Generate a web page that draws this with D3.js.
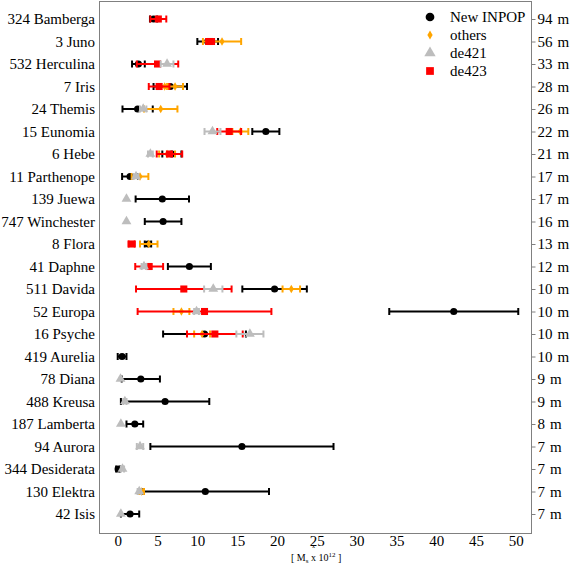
<!DOCTYPE html>
<html lang="en">
  <head>
    <meta charset="UTF-8" />
    <title>Asteroid masses</title>
    <style>
      body { margin: 0; background: #fff; }
      svg, svg text { font-family: 'Liberation Serif', 'Times New Roman', serif; }
      .axis text { font-size: 15px; fill: #000; }
      .axis path, .axis line { stroke: #808080; }
    </style>
  </head>
  <body>
    <svg width="572" height="567"></svg>
    <script src="https://cdn.jsdelivr.net/npm/d3@7/dist/d3.min.js"></script>
    <script>
      const asteroids = [
        '324 Bamberga', '3 Juno', '532 Herculina', '7 Iris', '24 Themis', '15 Eunomia',
        '6 Hebe', '11 Parthenope', '139 Juewa', '747 Winchester', '8 Flora', '41 Daphne',
        '511 Davida', '52 Europa', '16 Psyche', '419 Aurelia', '78 Diana', '488 Kreusa',
        '187 Lamberta', '94 Aurora', '344 Desiderata', '130 Elektra', '42 Isis'
      ];
      const diameters = [94, 56, 33, 28, 26, 22, 21, 17, 17, 16, 13, 12, 10, 10, 10, 10, 9, 9, 8, 7, 7, 7, 7];
      const xTicks = [0, 5, 10, 15, 20, 25, 30, 35, 40, 45, 50];

      // [asteroid, mass, sigma]
      const newInpop = [
        ['324 Bamberga', 4.5, 0.45], ['3 Juno', 11.3, 1.3], ['532 Herculina', 2.6, 0.8],
        ['7 Iris', 6.6, 2.1], ['24 Themis', 2.5, 1.9], ['15 Eunomia', 18.6, 1.7],
        ['6 Hebe', 6.8, 1.2], ['11 Parthenope', 1.55, 1.0], ['139 Juewa', 5.6, 3.35],
        ['747 Winchester', 5.7, 2.3], ['8 Flora', 3.8, 0.4], ['41 Daphne', 9.0, 2.7],
        ['511 Davida', 19.7, 4.05], ['52 Europa', 42.2, 8.1], ['16 Psyche', 10.9, 5.2],
        ['419 Aurelia', 0.55, 0.55], ['78 Diana', 2.9, 2.4], ['488 Kreusa', 5.95, 5.55],
        ['187 Lamberta', 2.15, 1.05], ['94 Aurora', 15.6, 11.5], ['344 Desiderata', 0.05, 0.25],
        ['130 Elektra', 11.0, 8.0], ['42 Isis', 1.55, 1.15]
      ];
      const others = [
        ['3 Juno', 13.1, 2.4], ['7 Iris', 7.2, 1.0], ['7 Iris', 5.9, 0.5],
        ['24 Themis', 5.4, 2.1], ['15 Eunomia', 15.4, 1.0], ['6 Hebe', 6.2, 1.0],
        ['11 Parthenope', 2.8, 1.05], ['8 Flora', 3.9, 1.1], ['511 Davida', 21.8, 1.1],
        ['52 Europa', 8.0, 1.0], ['16 Psyche', 10.6, 1.0], ['130 Elektra', 3.0, 0.3]
      ];
      const de421 = [
        ['532 Herculina', 6.2, 0.8], ['24 Themis', 3.2, 0.4], ['15 Eunomia', 11.9, 1.0],
        ['6 Hebe', 4.1, 0.3], ['11 Parthenope', 2.3, 0.3], ['139 Juewa', 1.1, 0],
        ['747 Winchester', 1.1, 0], ['41 Daphne', 3.3, 0.3], ['511 Davida', 12.0, 1.15],
        ['52 Europa', 9.9, 0.3], ['16 Psyche', 16.6, 1.7], ['78 Diana', 0.35, 0],
        ['488 Kreusa', 0.9, 0.2], ['187 Lamberta', 0.4, 0], ['94 Aurora', 2.8, 0.4],
        ['344 Desiderata', 0.6, 0.2], ['130 Elektra', 2.7, 0.2], ['42 Isis', 0.4, 0]
      ];
      const de423 = [
        ['324 Bamberga', 5.1, 1.0], ['3 Juno', 11.6, 0.5], ['532 Herculina', 5.0, 2.6],
        ['7 Iris', 5.2, 1.3], ['15 Eunomia', 14.0, 1.5], ['6 Hebe', 6.5, 1.6],
        ['8 Flora', 1.75, 0.4], ['41 Daphne', 3.95, 1.75], ['511 Davida', 8.3, 6.0],
        ['52 Europa', 10.9, 8.4], ['16 Psyche', 12.2, 3.5]
      ];

      const plotLeft = 99, plotRight = 531, plotTop = 1, plotBottom = 533;
      const svg = d3.select('svg');

      const x = d3.scaleLinear().domain([-2.35, 51.9]).range([plotLeft, plotRight]);
      const y = d3.scalePoint().domain(asteroids).range([19, 514]);

      // frame
      svg.append('rect')
        .attr('x', plotLeft + 0.5).attr('y', plotTop + 0.5)
        .attr('width', plotRight - plotLeft).attr('height', plotBottom - plotTop)
        .attr('fill', 'none').attr('stroke', '#808080');

      const xAxis = svg.append('g').attr('class', 'axis')
        .attr('transform', `translate(0,${plotBottom})`)
        .call(d3.axisBottom(x).tickValues(xTicks).tickSize(0).tickPadding(2));
      xAxis.select('.domain').remove();

      const yAxis = svg.append('g').attr('class', 'axis')
        .attr('transform', `translate(${plotLeft},0)`)
        .call(d3.axisLeft(y).tickSize(0).tickPadding(4));
      yAxis.select('.domain').remove();

      const rAxis = svg.append('g').attr('class', 'axis')
        .attr('transform', `translate(${plotRight + 0.5},0)`)
        .call(d3.axisRight(y).tickSize(4).tickPadding(2).tickFormat(''));
      rAxis.select('.domain').remove();
      rAxis.selectAll('.tick').each(function (d, i) {
        const t = d3.select(this).select('text');
        t.append('tspan').text(diameters[i]);
        t.append('tspan').attr('dx', 5).text('m');
      });
      svg.selectAll('.axis').attr('font-family', null).attr('font-size', null);

      // x label
      const lab = svg.append('text')
        .attr('x', 291).attr('y', 561)
        .attr('font-size', 10);
      lab.append('tspan').text('[ M');
      lab.append('tspan').attr('font-size', 7).attr('dy', 2).text('s');
      lab.append('tspan').attr('dy', -2).text(' x');
      lab.append('tspan').attr('dy', 0).text(' 10');
      lab.append('tspan').attr('font-size', 7).attr('dy', -4).text('12');
      lab.append('tspan').attr('dy', 4).text(' ]');
      svg.append('text')
        .attr('x', 312).attr('y', 548)
        .attr('font-size', 6)
        .text('x');

      const series = [
        { data: newInpop, color: '#000000', symbol: d3.symbolCircle, size: 40, legSize: 60, label: 'New INPOP' },
        { data: others, color: '#ffa500', symbol: d3.symbolDiamond, size: 22, legSize: 24, label: 'others' },
        { data: de423, color: '#ff0000', symbol: d3.symbolSquare, size: 50, legSize: 60, label: 'de423' },
        { data: de421, color: '#bdbdbd', symbol: d3.symbolTriangle, size: 42, legSize: 56, label: 'de421' }
      ];

      series.forEach((s) => {
        const g = svg.append('g');
        const pts = g.selectAll('g').data(s.data).enter().append('g')
          .attr('transform', (d) => `translate(0,${y(d[0])})`);
        const bars = pts.filter((d) => d[2] > 0);
        bars.append('line')
          .attr('x1', (d) => x(d[1] - d[2])).attr('x2', (d) => x(d[1] + d[2]))
          .attr('stroke', s.color).attr('stroke-width', 2);
        bars.append('line')
          .attr('x1', (d) => x(d[1] - d[2])).attr('x2', (d) => x(d[1] - d[2]))
          .attr('y1', -3.5).attr('y2', 3.5)
          .attr('stroke', s.color).attr('stroke-width', 2);
        bars.append('line')
          .attr('x1', (d) => x(d[1] + d[2])).attr('x2', (d) => x(d[1] + d[2]))
          .attr('y1', -3.5).attr('y2', 3.5)
          .attr('stroke', s.color).attr('stroke-width', 2);
        pts.append('path')
          .attr('d', d3.symbol().type(s.symbol).size(s.size))
          .attr('transform', (d) => `translate(${x(d[1])},0)`)
          .attr('fill', s.color);
      });

      // legend
      const legendOrder = [0, 1, 3, 2];
      const legY = [17, 35, 53, 71];
      legendOrder.forEach((k, i) => {
        const s = series[k];
        svg.append('path')
          .attr('d', d3.symbol().type(s.symbol).size(s.legSize))
          .attr('transform', `translate(430,${legY[i]})`)
          .attr('fill', s.color);
        svg.append('text')
          .attr('x', 450).attr('y', legY[i] + 5)
          .attr('font-size', 15)
          .text(s.label);
      });
    </script>
  </body>
</html>
